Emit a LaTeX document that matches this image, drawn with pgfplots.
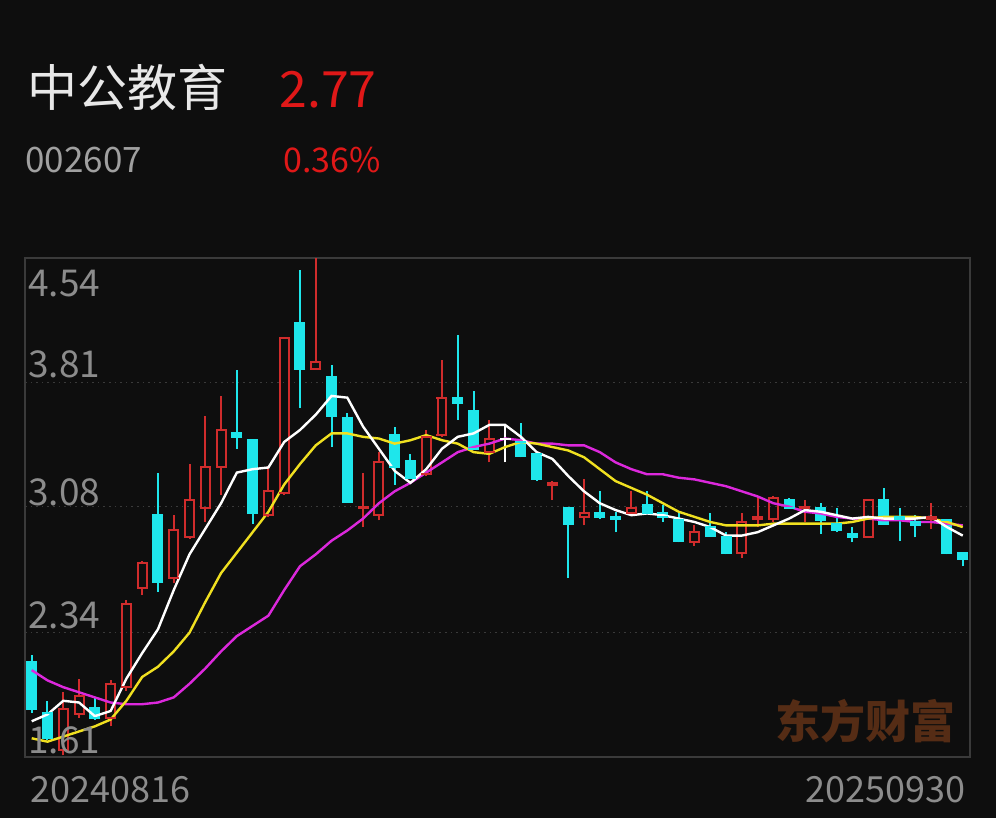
\documentclass[border=0pt]{standalone}
\usepackage{fontspec}
\setmainfont{Noto Sans CJK SC}
\usepackage{pgfplots}
\usepackage{pgfplotstable}
\pgfplotsset{compat=1.18}

\definecolor{bgc}{HTML}{0E0E0E}
\definecolor{upred}{HTML}{D02C2C}
\definecolor{dncy}{HTML}{1EE6EB}
\definecolor{ma5c}{HTML}{FFFFFF}
\definecolor{ma10c}{HTML}{F0E020}
\definecolor{ma20c}{HTML}{DC28DC}
\definecolor{framec}{HTML}{3A3A3A}
\definecolor{labc}{HTML}{8C8C8C}
\definecolor{codec}{HTML}{A0A0A0}
\definecolor{titlec}{HTML}{E8E8E8}
\definecolor{pricec}{HTML}{E01818}
\definecolor{wmc}{HTML}{552C15}

% rising candles (close > open): index open high low close
\pgfplotstableread{
i O H L C
3 1.65 1.99 1.62 1.89
4 1.86 2.07 1.84 1.97
6 1.84 2.06 1.79 2.04
7 2.02 2.53 2.00 2.51
8 2.60 2.76 2.56 2.75
10 2.66 3.03 2.63 2.94
11 2.90 3.33 2.89 3.12
12 3.07 3.61 2.99 3.31
13 3.31 3.73 3.15 3.53
16 3.03 3.32 3.02 3.17
17 3.16 4.07 3.15 4.07
19 3.89 4.60 3.89 3.93
22 3.07 3.28 2.96 3.08
23 3.03 3.40 3.00 3.34
26 3.27 3.53 3.26 3.49
27 3.50 3.94 3.49 3.72
30 3.40 3.59 3.34 3.48
34 3.21 3.23 3.12 3.22
36 3.02 3.24 2.97 3.04
39 3.04 3.17 3.03 3.07
43 2.87 2.97 2.85 2.93
46 2.81 3.04 2.78 2.99
47 3.01 3.14 2.96 3.02
48 3.01 3.14 2.99 3.13
50 3.07 3.12 2.99 3.08
54 2.90 3.12 2.90 3.12
58 3.01 3.10 2.95 3.02
}\upT

% falling candles (close < open)
\pgfplotstableread{
i O H L C
1 2.17 2.21 1.87 1.89
2 1.87 1.94 1.71 1.72
5 1.90 1.96 1.83 1.84
9 3.03 3.28 2.58 2.64
14 3.51 3.88 3.42 3.49
15 3.47 3.48 2.98 3.04
18 4.16 4.47 3.66 3.89
20 3.84 3.91 3.43 3.61
21 3.60 3.63 3.10 3.11
24 3.50 3.55 3.21 3.31
25 3.35 3.39 3.24 3.25
28 3.72 4.09 3.59 3.69
29 3.64 3.76 3.41 3.42
32 3.46 3.57 3.37 3.38
33 3.39 3.39 3.23 3.24
35 3.07 3.08 2.66 2.98
37 3.04 3.17 3.01 3.02
38 3.02 3.05 2.93 3.01
40 3.09 3.17 3.04 3.04
41 3.04 3.09 2.99 3.02
42 3.00 3.04 2.87 2.88
44 2.96 3.04 2.91 2.91
45 2.90 2.93 2.80 2.81
49 3.12 3.13 3.07 3.07
51 3.07 3.10 2.92 3.00
52 2.98 3.07 2.93 2.94
53 2.92 2.96 2.87 2.90
55 3.12 3.19 2.98 2.98
56 3.02 3.07 2.88 3.01
57 2.99 3.03 2.90 2.97
59 3.00 3.01 2.80 2.81
60 2.81 2.81 2.73 2.77
}\dnT

% unchanged (doji)
\pgfplotstableread{
i O H L C
31 3.48 3.56 3.34 3.48
}\flT

\pgfplotstableread{
i ma5 ma10 ma20
1 1.82 1.72 2.12
2 1.86 1.70 2.06
3 1.94 1.73 2.02
4 1.93 1.76 1.99
5 1.85 1.79 1.96
6 1.88 1.83 1.93
7 2.07 1.94 1.92
8 2.22 2.08 1.92
9 2.36 2.14 1.93
10 2.59 2.23 1.96
11 2.80 2.34 2.04
12 2.95 2.52 2.13
13 3.10 2.69 2.23
14 3.28 2.81 2.32
15 3.30 2.93 2.38
16 3.31 3.05 2.44
17 3.46 3.21 2.59
18 3.53 3.33 2.73
19 3.62 3.44 2.80
20 3.73 3.51 2.88
21 3.72 3.51 2.94
22 3.55 3.49 3.01
23 3.42 3.48 3.10
24 3.29 3.45 3.17
25 3.22 3.47 3.22
26 3.30 3.50 3.28
27 3.42 3.47 3.34
28 3.49 3.45 3.40
29 3.51 3.40 3.43
30 3.56 3.39 3.45
31 3.56 3.43 3.48
32 3.49 3.46 3.47
33 3.40 3.45 3.45
34 3.36 3.43 3.45
35 3.26 3.41 3.44
36 3.17 3.37 3.44
37 3.10 3.30 3.40
38 3.06 3.23 3.34
39 3.03 3.19 3.30
40 3.04 3.15 3.27
41 3.03 3.10 3.27
42 3.01 3.05 3.25
43 2.99 3.02 3.24
44 2.96 2.99 3.22
45 2.91 2.97 3.20
46 2.91 2.97 3.17
47 2.93 2.97 3.14
48 2.97 2.98 3.10
49 3.01 2.98 3.08
50 3.06 2.98 3.05
51 3.05 2.98 3.04
52 3.03 2.98 3.02
53 3.01 2.99 3.01
54 3.02 3.01 3.01
55 3.01 3.02 3.00
56 3.01 3.02 3.00
57 3.01 3.02 2.99
58 3.02 3.01 2.99
59 2.96 2.99 2.98
60 2.91 2.96 2.97
}\matab

\pgfplotsset{
  vbar/.style={draw=none, no markers, forget plot,
    error bars/.cd, y dir=plus, y explicit, error mark=none,
    error bar style={draw=#1, line width=1pt}},
  fatbar/.style={draw=none, no markers, forget plot,
    error bars/.cd, y dir=plus, y explicit, error mark=none,
    error bar style={draw=#1, line width=5.5pt}},
  hbar/.style={only marks, mark=-, mark size=2.75pt, forget plot,
    mark options={draw=#1, line width=1pt}},
}

\begin{document}
\begin{tikzpicture}
\useasboundingbox (0pt,0pt) rectangle (498pt,-409pt);
\fill[bgc] (0pt,0pt) rectangle (498pt,-409pt);

\node[anchor=base west, inner sep=0, text=titlec, font=\fontsize{25}{30}\selectfont] at (13.5pt,-53.5pt) {中公教育};
\node[anchor=base west, inner sep=0, text=pricec, font=\fontsize{25}{30}\selectfont] at (139.5pt,-54pt) {2.77};
\node[anchor=base west, inner sep=0, text=codec, font=\fontsize{17.5}{20}\selectfont] at (12.5pt,-86.5pt) {002607};
\node[anchor=base west, inner sep=0, text=pricec, font=\fontsize{17}{20}\selectfont] at (141.5pt,-86.5pt) {0.36\%};

\node[anchor=base east, inner sep=0, text=wmc, font=\fontsize{22.5}{26}\bfseries\selectfont] at (478pt,-369pt) {东方财富};

\begin{axis}[
  at={(12.5pt,-378.5pt)}, anchor=south west,
  width=472.5pt, height=249.5pt, scale only axis,
  xmin=0.575, xmax=60.46, ymin=1.61, ymax=4.54,
  xtick=\empty, ytick={2.34,3.08,3.81}, yticklabels={,,},
  major tick length=0pt,
  ymajorgrids, major grid style={draw=framec, line width=0.8pt, dotted},
  axis line style={draw=framec, line width=1pt},
  clip=true,
]
% falling: full wick, filled body
\addplot[vbar=dncy] table[x=i, y=L, y error expr=\thisrow{H}-\thisrow{L}] {\dnT};
\addplot[fatbar=dncy] table[x=i, y=C, y error expr=\thisrow{O}-\thisrow{C}] {\dnT};
\addplot[hbar=dncy] table[x=i, y=O] {\dnT};
\addplot[hbar=dncy] table[x=i, y=C] {\dnT};
% rising: hollow body
\addplot[vbar=upred] table[x=i, y=L, y error expr=\thisrow{O}-\thisrow{L}] {\upT};
\addplot[vbar=upred] table[x=i, y=C, y error expr=\thisrow{H}-\thisrow{C}] {\upT};
\addplot[vbar=upred] table[x expr=\thisrow{i}-0.285, y=O, y error expr=\thisrow{C}-\thisrow{O}] {\upT};
\addplot[vbar=upred] table[x expr=\thisrow{i}+0.285, y=O, y error expr=\thisrow{C}-\thisrow{O}] {\upT};
\addplot[hbar=upred] table[x=i, y=O] {\upT};
\addplot[hbar=upred] table[x=i, y=C] {\upT};
% unchanged
\addplot[vbar=white] table[x=i, y=L, y error expr=\thisrow{H}-\thisrow{L}] {\flT};
\addplot[hbar=white] table[x=i, y=O] {\flT};

\addplot[ma20c, line width=1.2pt, no markers] table[x=i, y=ma20] {\matab};
\addplot[ma10c, line width=1.2pt, no markers] table[x=i, y=ma10] {\matab};
\addplot[ma5c, line width=1.2pt, no markers] table[x=i, y=ma5] {\matab};
\end{axis}

\begin{scope}[every node/.style={anchor=base west, inner sep=0, text=labc, font=\fontsize{18.5}{22}\selectfont}]
\node at (14pt,-148.5pt) {4.54};
\node at (14pt,-189pt) {3.81};
\node at (14pt,-252.5pt) {3.08};
\node at (14pt,-314pt) {2.34};
\node at (14pt,-376.5pt) {1.61};
\end{scope}

\node[anchor=base west, inner sep=0, text=labc, font=\fontsize{18}{22}\selectfont] at (15pt,-401pt) {20240816};
\node[anchor=base east, inner sep=0, text=labc, font=\fontsize{18}{22}\selectfont] at (483pt,-401pt) {20250930};
\end{tikzpicture}
\end{document}
